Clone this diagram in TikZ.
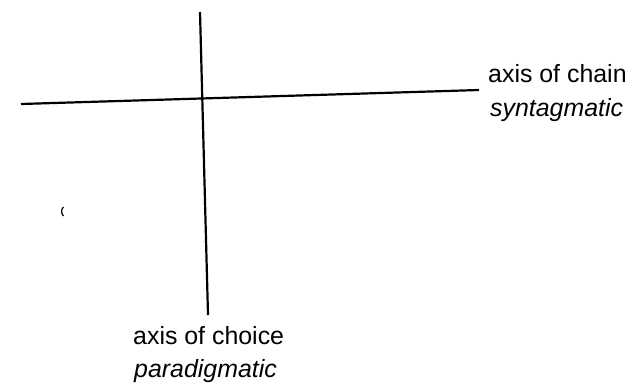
\documentclass[tikz,border=0pt]{standalone}
\usepackage{fontspec}
\setmainfont{Liberation Sans}
\begin{document}
\begin{tikzpicture}[x=1bp,y=-1bp,
  axisline/.style={line width=2.2bp,line cap=butt},
  lbl/.style={inner sep=0pt,anchor=base west,font=\fontsize{25}{30}\selectfont}]
\useasboundingbox (0,0) rectangle (633,383);
\coordinate (vtop) at (200,12);
\coordinate (vbot) at (208,315);
\coordinate (hleft) at (21,104);
\coordinate (hright) at (479,90);
\draw[axisline] (vtop) -- (vbot);
\draw[axisline] (hleft) -- (hright);
\node[lbl] (chain) at (488,82) {axis of chain};
\node[lbl] (synt) at (490,116) {\itshape syntagmatic};
\node[lbl] (choice) at (133,344) {axis of choice};
\node[lbl] (para) at (134,377) {\itshape paradigmatic};
% small stray mark
\draw[line width=1.2bp] (63.5,207) .. controls (61,209) and (61,214) .. (63.5,216);
\end{tikzpicture}
\end{document}
